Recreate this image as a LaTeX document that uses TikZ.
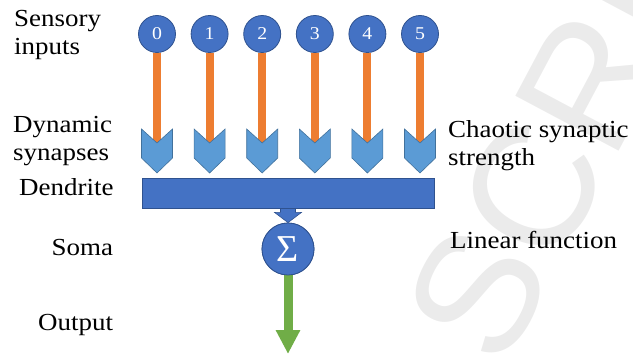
\documentclass[tikz,border=0pt]{standalone}
\usepackage{fontspec}
\setmainfont{Liberation Serif}[FakeStretch=1.1]
\newfontfamily\wmfont{Liberation Sans}
\newfontfamily\sigmafont{Liberation Serif}
\usetikzlibrary{arrows.meta,calc}
\definecolor{cblue}{HTML}{4472C4}
\definecolor{cbluedark}{HTML}{2F528F}
\definecolor{clight}{HTML}{5B9BD5}
\definecolor{clightdark}{HTML}{41719C}
\definecolor{corange}{HTML}{ED7D31}
\definecolor{cgreen}{HTML}{70AD47}
\definecolor{wmgray}{HTML}{EBEBEB}
\begin{document}
\begin{tikzpicture}[x=1pt,y=-1pt,
  inp/.style={circle, fill=cblue, draw=cbluedark, line width=0.8pt, minimum size=37pt, inner sep=0pt, text=white, font=\fontsize{18}{18}\selectfont},
  somabox/.style={circle, fill=cblue, draw=cbluedark, line width=0.8pt, minimum size=52pt, inner sep=0pt, text=white, font=\sigmafont\fontsize{38}{38}\selectfont},
  dendbox/.style={rectangle, fill=cblue, draw=cbluedark, line width=0.8pt, minimum width=292pt, minimum height=30pt, inner sep=0pt},
  syn/.style={fill=clight, draw=clightdark, line width=0.6pt, line join=miter},
  feed/.style={draw=corange, line width=8pt},
  outarrow/.style={draw=cgreen, line width=9pt, -{Triangle[width=23pt,length=24pt]}},
  lbl/.style={anchor=base west, inner sep=0pt, align=left, font=\fontsize{24.5}{28}\selectfont},
  wmtext/.style={text=wmgray, font=\wmfont\fontsize{170}{170}\selectfont, rotate=62, anchor=base west, inner sep=0pt},
]
\useasboundingbox (0,0) rectangle (633,356);
% watermark
\begin{scope}
  \clip (0,0) rectangle (633,356);
  \node[wmtext] (wm) at (502,372) {SCRIPT};
\end{scope}

% input neurons
\foreach \i/\x in {0/157,1/209.6,2/262.2,3/314.8,4/367.4,5/420}{
  \node[inp] (c\i) at (\x,34) {\i};
  \coordinate (s\i) at (\x,143);
  \draw[feed] (c\i.south) -- (s\i);
  \draw[syn] ($(s\i)+(-15.5,-14)$) -- (s\i) -- ($(s\i)+(15.5,-14)$) -- ($(s\i)+(15.5,15)$) -- ($(s\i)+(0,30)$) -- ($(s\i)+(-15.5,15)$) -- cycle;
}

% soma and output
\node[somabox] (soma) at (288,249) {};
\coordinate (out) at (288,354);
\draw[outarrow] (soma.south) -- (out);
\node[somabox] (soma2) at (soma) {Σ};

% dendrite and its arrow
\node[dendbox] (dend) at (288,193) {};
\draw[fill=cblue, draw=cbluedark, line width=0.6pt]
  ($(dend.south)+(-7.5,-1)$) -- ($(dend.south)+(-7.5,4)$) -- ($(dend.south)+(-13.5,4)$)
  -- (soma.north) -- ($(dend.south)+(13.5,4)$) -- ($(dend.south)+(7.5,4)$) -- ($(dend.south)+(7.5,-1)$);
\node[dendbox] (dend2) at (dend) {};

% labels
\node[lbl] (lsens) at (14,54) {Sensory\\inputs};
\node[lbl] (ldyn) at (13,160) {Dynamic\\synapses};
\node[lbl] (ldend) at (19,195) {Dendrite};
\node[lbl] (lsoma) at (51.5,255) {Soma};
\node[lbl] (lout) at (38,330) {Output};
\node[lbl] (lchaos) at (448,165) {Chaotic synaptic\\strength};
\node[lbl] (llin) at (450,248) {Linear function};
\end{tikzpicture}
\end{document}
